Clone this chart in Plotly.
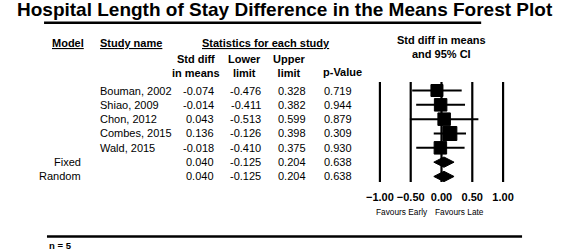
import plotly.graph_objects as go

# ---------------- data ----------------
models = ["", "", "", "", "", "Fixed", "Random"]
studies = ["Bouman, 2002", "Shiao, 2009", "Chon, 2012", "Combes, 2015", "Wald, 2015", "", ""]
smd = [-0.074, -0.014, 0.043, 0.136, -0.018, 0.040, 0.040]
lower = [-0.476, -0.411, -0.513, -0.126, -0.410, -0.125, -0.125]
upper = [0.328, 0.382, 0.599, 0.398, 0.375, 0.204, 0.204]
pvals = [0.719, 0.944, 0.879, 0.309, 0.930, 0.638, 0.638]
tick_vals = [-1.0, -0.5, 0.0, 0.5, 1.0]
n_studies = 5

# ---------------- layout helpers ----------------
W, H = 567, 250
FONT = "Liberation Sans, Arial, sans-serif"
ROW0, ROWSTEP = 90.5, 14.33      # pixel y of first row, row spacing
TOP, BOT = 82.0, 182.0           # forest panel vertical extent (px)
XL, XR = 381.0, 507.5            # pixel x of -1 and +1
PAD = 0.08                       # range padding (data units)


def px(x):
    return x / W


def py(y):
    return 1 - y / H


unit_px = (XR - XL) / 2.0
n_rows = len(smd)
n_ind = len(studies) - 2
sq_sizes = [12, 12.5, 12.5, 14, 12.5]
diamond_half = 0.36  # in row units

y_top = (TOP - ROW0) / ROWSTEP
y_bot = (BOT - ROW0) / ROWSTEP

fig = go.Figure()

# vertical reference lines at each tick value
ref_x, ref_y = [], []
for t in tick_vals:
    ref_x += [t, t, None]
    ref_y += [y_top, y_bot, None]
fig.add_trace(go.Scatter(x=ref_x, y=ref_y, mode="lines",
                         line=dict(color="black", width=2.2),
                         showlegend=False, hoverinfo="skip"))

# study squares with CI lines
fig.add_trace(go.Scatter(
    x=smd[:n_ind], y=list(range(n_ind)), mode="markers",
    marker=dict(symbol="square", size=sq_sizes, color="black", opacity=1,
                line=dict(width=1, color="black")),
    error_x=dict(type="data", symmetric=False,
                 array=[u - e for u, e in zip(upper[:n_ind], smd[:n_ind])],
                 arrayminus=[e - l for e, l in zip(smd[:n_ind], lower[:n_ind])],
                 color="black", thickness=2, width=0),
    showlegend=False, hoverinfo="skip"))

# summary diamonds
for i in range(n_ind, n_rows):
    fig.add_trace(go.Scatter(
        x=[lower[i], smd[i], upper[i], smd[i], lower[i]],
        y=[i, i - diamond_half, i, i + diamond_half, i],
        mode="lines", fill="toself", fillcolor="black",
        line=dict(color="black", width=1), showlegend=False, hoverinfo="skip"))

fig.update_layout(
    width=W, height=H, margin=dict(l=0, r=0, t=0, b=0),
    paper_bgcolor="white", plot_bgcolor="white",
    font=dict(family=FONT, color="black"),
    xaxis=dict(domain=[px(XL - PAD * unit_px), px(XR + PAD * unit_px)],
               range=[-1 - PAD, 1 + PAD], tickvals=tick_vals,
               tickformat=".2f", showgrid=False,
               zeroline=False, showline=False, ticks="",
               ticklabelstandoff=7,
               tickfont=dict(family=FONT, size=11, color="black", weight="bold")),
    yaxis=dict(domain=[py(BOT), py(TOP)], range=[y_bot, y_top], visible=False,
               showgrid=False, zeroline=False),
)

ann = []


def add_text(text, x, y, yref="paper", size=11, bold=False, xanchor="left",
             under=False):
    f = dict(family=FONT, size=size, color="black")
    if bold:
        f["weight"] = "bold"
    if under:
        f["lineposition"] = "under"
    ann.append(dict(text=text, x=x, y=y, xref="paper", yref=yref,
                    xanchor=xanchor, yanchor="middle", showarrow=False,
                    font=f))


# title
add_text("Hospital Length of Stay Difference in the Means Forest Plot",
         px(283), py(9.5), size=19, bold=True, xanchor="center")

# headers
add_text("Model", px(42), py(42.5), size=11, bold=True, under=True)
add_text("Study name", px(91), py(42.5), size=11, bold=True, under=True)
add_text("Statistics for each study", px(264), py(42.5), size=11, bold=True,
         xanchor="center", under=True)
add_text("Std diff<br>in means", px(192), py(66), size=11, bold=True, xanchor="center")
add_text("Lower<br>limit", px(242), py(66), size=11, bold=True, xanchor="center")
add_text("Upper<br>limit", px(288), py(66), size=11, bold=True, xanchor="center")
add_text("p-Value", px(343), py(72), size=11, bold=True, xanchor="center")
add_text("Std diff in means<br>and 95% CI", px(444), py(47), size=11, bold=True,
         xanchor="center")

# rows
for i in range(n_rows):
    if models[i]:
        add_text(models[i], px(76), i, yref="y", xanchor="right")
    if studies[i]:
        add_text(studies[i], px(91), i, yref="y")
    add_text(f"{smd[i]:.3f}", px(213), i, yref="y", xanchor="right")
    add_text(f"{lower[i]:.3f}", px(261), i, yref="y", xanchor="right")
    add_text(f"{upper[i]:.3f}", px(307), i, yref="y", xanchor="right")
    add_text(f"{pvals[i]:.3f}", px(354), i, yref="y", xanchor="right")

# favours
add_text("Favours Early", px(432), py(212), size=8.3, xanchor="right")
add_text("Favours Late", px(436), py(212), size=8.3, xanchor="left")

# footnote
add_text(f"n = {n_studies}", px(39), py(245), size=9.5, bold=True)

fig.update_layout(annotations=ann, shapes=[
    dict(type="rect", xref="paper", yref="paper", x0=px(36), x1=px(485),
         y0=py(24), y1=py(21.5), layer="above", fillcolor="black",
         line=dict(width=0)),
    dict(type="rect", xref="paper", yref="paper", x0=px(39), x1=px(527),
         y0=py(237.8), y1=py(235.3), layer="above", fillcolor="black",
         line=dict(width=0)),
])

fig.write_html("out.html", config={"displayModeBar": False},
               post_script="document.body.style.margin='0px';document.body.style.overflow='hidden';")
